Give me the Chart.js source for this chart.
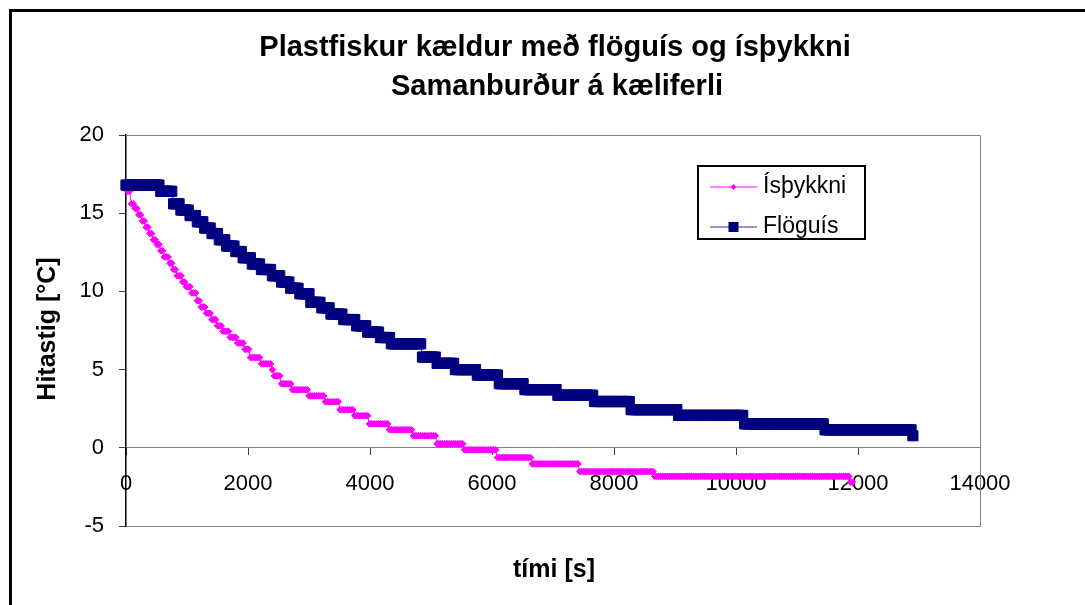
<!DOCTYPE html>
<html>
<head>
<meta charset="utf-8">
<script src="https://cdn.jsdelivr.net/npm/chart.js@4.4.1/dist/chart.umd.min.js"></script>
<style>
  html, body { margin: 0; padding: 0; background: #fff; overflow: hidden; }
  #wrap { position: relative; width: 1085px; height: 605px; }
  #ramma { position: absolute; left: 9px; top: 9px; width: 1200px; height: 800px; border: 3px solid #000; box-sizing: border-box; }
  canvas { position: absolute; left: 0; top: 0; }
</style>
</head>
<body>
<div id="wrap">
  <div id="ramma"></div>
  <canvas id="graf" width="1085" height="605"></canvas>
</div>
<script>
// Mælingar skráðar á 30 s fresti, hitastig helst fast á milli þrepa
const millibil = 30;

// Ísþykkni: upphaf hvers þreps [s] og hitastig þreps [°C]
const isThrepTimi = [30, 90, 150, 210, 270, 330, 390, 450, 510, 570, 630, 700, 770, 840, 910, 990,
  1070, 1150, 1230, 1310, 1400, 1500, 1590, 1700, 1810, 1930, 2040, 2200, 2380, 2420, 2550, 2730,
  3000, 3260, 3490, 3730, 3990, 4320, 4690, 5080, 5540, 6070, 6640, 7440, 8650, 11880];
const isThrepHiti = [16.4, 15.6, 15.3, 14.9, 14.5, 14.1, 13.7, 13.3, 13.0, 12.6, 12.2, 11.8, 11.4, 11.0, 10.6, 10.3,
  9.9, 9.4, 9.0, 8.6, 8.2, 7.8, 7.45, 7.06, 6.7, 6.3, 5.77, 5.37, 4.99, 4.6, 4.09, 3.71,
  3.32, 2.94, 2.43, 2.05, 1.53, 1.15, 0.77, 0.26, -0.13, -0.62, -1.03, -1.52, -1.83, -2.2];
const isLok = 11910;

// Flöguís: upphaf hvers þreps [s] og hitastig þreps [°C]
const flThrepTimi = [0, 570, 770, 895, 1030, 1160, 1265, 1405, 1525, 1640, 1790, 1910, 2045, 2210, 2375, 2540,
  2675, 2840, 3030, 3195, 3360, 3560, 3760, 3950, 4150, 4345, 4840, 5100, 5390, 5750, 6110, 6540,
  7060, 7660, 8280, 9040, 10120, 11440, 12900];
const flThrepHiti = [16.8, 16.4, 15.6, 15.2, 14.85, 14.45, 14.05, 13.7, 13.3, 12.9, 12.55, 12.15, 11.75, 11.4, 11.0, 10.6,
  10.2, 9.85, 9.3, 8.95, 8.55, 8.2, 7.8, 7.4, 7.05, 6.65, 5.8, 5.4, 5.0, 4.65, 4.1, 3.72,
  3.36, 2.96, 2.44, 2.07, 1.53, 1.15, 0.77];
const flLok = 12900;

const titill = ['Plastfiskur kældur með flöguís og ísþykkni', 'Samanburður á kæliferli'];
const xTitill = 'tími [s]';
const yTitill = 'Hitastig [°C]';
const heiti = ['Ísþykkni', 'Flöguís'];

const letur = '"Liberation Sans", Arial, sans-serif';

// Breytir þrepaskrá í mælipunkta
function threpTilPunkta(timar, hiti, lok) {
  const punktar = [];
  let k = 0;
  for (let t = timar[0]; t <= lok; t += millibil) {
    while (k + 1 < timar.length && timar[k + 1] <= t) k++;
    punktar.push({ x: t, y: hiti[k] });
  }
  return punktar;
}

// Rammi um teiknisvæðið, titlar og skýringar
const teikning = {
  id: 'teikning',
  beforeDatasetsDraw(chart) {
    const { ctx, chartArea: a } = chart;
    ctx.save();
    ctx.strokeStyle = '#808080';
    ctx.lineWidth = 1;
    ctx.beginPath();
    ctx.moveTo(a.left, a.top + 0.5);
    ctx.lineTo(a.right + 0.5, a.top + 0.5);
    ctx.lineTo(a.right + 0.5, a.bottom + 0.5);
    ctx.lineTo(a.left, a.bottom + 0.5);
    ctx.stroke();
    ctx.restore();
  },
  afterDraw(chart) {
    const ctx = chart.ctx;
    ctx.save();
    ctx.fillStyle = '#000';
    ctx.textAlign = 'center';
    ctx.textBaseline = 'middle';
    ctx.font = 'bold 29px ' + letur;
    ctx.fillText(titill[0], 555, 48);
    ctx.fillText(titill[1], 557, 87);

    ctx.font = 'bold 25px ' + letur;
    ctx.fillText(xTitill, 554, 570);
    ctx.save();
    ctx.translate(48, 329);
    ctx.rotate(-Math.PI / 2);
    ctx.fillText(yTitill, 0, 0);
    ctx.restore();

    // skýringarkassi
    ctx.strokeStyle = '#000';
    ctx.lineWidth = 2;
    ctx.strokeRect(698, 166, 167, 73);
    const litir = ['rgba(255,0,255,0.65)', 'rgba(0,0,128,0.55)'];
    const radir = [187, 227];
    ctx.font = '23px ' + letur;
    ctx.textAlign = 'left';
    for (let i = 0; i < 2; i++) {
      const y = radir[i];
      ctx.strokeStyle = litir[i];
      ctx.lineWidth = 1.5;
      ctx.beginPath();
      ctx.moveTo(710, y);
      ctx.lineTo(757, y);
      ctx.stroke();
      ctx.fillStyle = chart.data.datasets[i].borderColor;
      if (i === 0) {
        ctx.beginPath();
        ctx.moveTo(733.5, y - 3);
        ctx.lineTo(736.5, y);
        ctx.lineTo(733.5, y + 3);
        ctx.lineTo(730.5, y);
        ctx.closePath();
        ctx.fill();
      } else {
        ctx.fillRect(728.5, y - 5, 10, 10);
      }
      ctx.fillStyle = '#000';
      ctx.fillText(heiti[i], 763, y);
    }
    ctx.restore();
  }
};

new Chart(document.getElementById('graf'), {
  type: 'line',
  data: {
    datasets: [
      {
        label: heiti[0],
        data: threpTilPunkta(isThrepTimi, isThrepHiti, isLok),
        borderColor: '#ff00ff',
        backgroundColor: '#ff00ff',
        borderWidth: 1,
        pointStyle: 'rectRot',
        pointRadius: 3.3,
        pointBorderColor: '#ff00ff',
        pointBorderWidth: 1,
        clip: false,
        order: 1
      },
      {
        label: heiti[1],
        data: threpTilPunkta(flThrepTimi, flThrepHiti, flLok),
        borderColor: '#000080',
        backgroundColor: '#000080',
        borderWidth: 1,
        pointStyle: 'rect',
        pointRadius: 7.2,
        pointBorderWidth: 1,
        clip: false,
        order: 0
      }
    ]
  },
  options: {
    responsive: false,
    animation: false,
    events: [],
    layout: { padding: { left: 0, top: 135, right: 105, bottom: 79 } },
    plugins: {
      legend: { display: false },
      title: { display: false },
      tooltip: { enabled: false }
    },
    scales: {
      x: {
        type: 'linear',
        position: { y: 0 },
        min: 0,
        max: 14000,
        ticks: {
          stepSize: 2000,
          padding: 16,
          maxRotation: 0,
          color: '#000',
          font: { family: letur, size: 22 },
          callback: (gildi) => String(gildi)
        },
        grid: { drawOnChartArea: false, tickLength: 7, color: '#404040' },
        border: { color: '#808080', width: 1 }
      },
      y: {
        min: -5,
        max: 20,
        ticks: {
          stepSize: 5,
          padding: 15,
          color: '#000',
          font: { family: letur, size: 22 }
        },
        grid: { drawOnChartArea: false, tickLength: 7, color: '#404040' },
        border: { color: '#000', width: 1.5 },
        afterFit(skali) { skali.width = 126; }
      }
    }
  },
  plugins: [teikning]
});
</script>
</body>
</html>
